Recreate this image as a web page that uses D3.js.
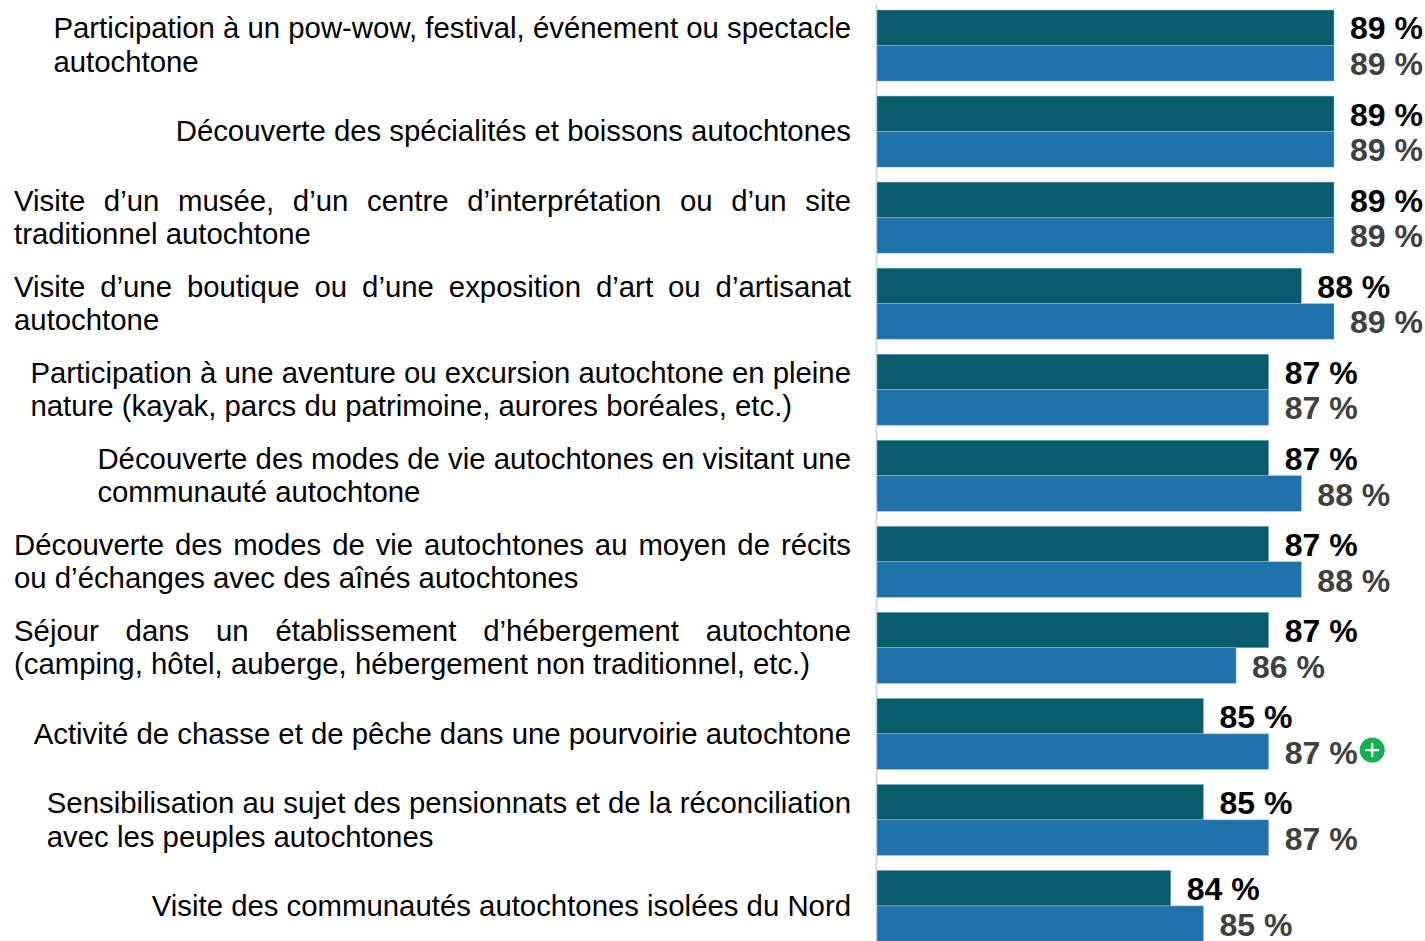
<!DOCTYPE html>
<html>
<head>
<meta charset="utf-8">
<style>
  html, body { margin: 0; padding: 0; background: #fff; overflow: hidden; }
  svg { display: block; font-family: "Liberation Sans", Arial, sans-serif; }
</style>
<script src="https://cdn.jsdelivr.net/npm/d3@7"></script>
</head>
<body>
<script>
var categories = [
    ["Participation à un pow-wow, festival, événement ou spectacle", "autochtone"],
    ["Découverte des spécialités et boissons autochtones"],
    ["Visite d’un musée, d’un centre d’interprétation ou d’un site", "traditionnel autochtone"],
    ["Visite d’une boutique ou d’une exposition d’art ou d’artisanat", "autochtone"],
    ["Participation à une aventure ou excursion autochtone en pleine", "nature (kayak, parcs du patrimoine, aurores boréales, etc.)"],
    ["Découverte des modes de vie autochtones en visitant une", "communauté autochtone"],
    ["Découverte des modes de vie autochtones au moyen de récits", "ou d’échanges avec des aînés autochtones"],
    ["Séjour dans un établissement d’hébergement autochtone", "(camping, hôtel, auberge, hébergement non traditionnel, etc.)"],
    ["Activité de chasse et de pêche dans une pourvoirie autochtone"],
    ["Sensibilisation au sujet des pensionnats et de la réconciliation", "avec les peuples autochtones"],
    ["Visite des communautés autochtones isolées du Nord"]
];
var series1 = [89, 89, 89, 88, 87, 87, 87, 87, 85, 85, 84];
var series2 = [89, 89, 89, 89, 87, 88, 88, 86, 87, 87, 85];
var seriesColors = ["#095c6b", "#2072ab"];
var labelColors = ["#000000", "#404040"];
var labelOffsets = [11.73, 12.06];
var justifiedRows = [2, 3, 6, 7];
var increasedRows = [8];

var canvasWidth = 1425;
var canvasHeight = 941;
var labelRight = 851;
var labelLeftLimit = 14;
var lineHeight = 33.7;
var groupStep = 86.04;

var svg = d3.select("body").append("svg")
    .attr("width", canvasWidth)
    .attr("height", canvasHeight);

// the value axis is cut off, bars start at 75 in the original
var x = d3.scaleLinear().domain([75, 89]).range([877, 1334]);

var y = d3.scaleBand()
    .domain(d3.range(categories.length))
    .range([2.5, 2.5 + groupStep * categories.length])
    .paddingInner(15 / 86)
    .paddingOuter(7.5 / 86);

var inner = d3.scaleBand()
    .domain([0, 1])
    .range([0, y.bandwidth()]);

// vertical axis line, no ticks or labels
var axis = svg.append("g")
    .attr("transform", "translate(" + (x.range()[0] - 1) + ",0)")
    .call(d3.axisLeft(d3.scaleLinear().range([3, canvasHeight])).tickSize(0).tickValues([]));
axis.select(".domain").attr("stroke", "#d9d9d9").attr("stroke-width", 2);

[series1, series2].forEach(function(values, s) {
    var g = svg.append("g").attr("class", "series-" + s);

    g.selectAll("rect")
        .data(values)
        .enter().append("rect")
        .attr("x", x.range()[0])
        .attr("y", function(d, i) { return y(i) + inner(s); })
        .attr("width", function(d) { return x(d) - x.range()[0]; })
        .attr("height", inner.bandwidth())
        .attr("fill", seriesColors[s])
        .attr("stroke", "#8fb8d0")
        .attr("stroke-width", 0.5);

    g.selectAll("text")
        .data(values)
        .enter().append("text")
        .attr("x", function(d) { return x(d) + 16; })
        .attr("y", function(d, i) { return y(i) + inner(s) + inner.bandwidth() / 2 + labelOffsets[s]; })
        .attr("font-size", 32)
        .attr("font-weight", "bold")
        .attr("fill", labelColors[s])
        .text(function(d) { return d + " %"; });
});

// category labels: block is right aligned, lines inside it are left aligned
var labels = svg.append("g").attr("class", "labels");
categories.forEach(function(lines, i) {
    var center = y(i) + y.bandwidth() / 2;
    var startY = center - (lines.length - 1) * lineHeight / 2 + 9.8;

    var texts = labels.selectAll("text.row-" + i)
        .data(lines)
        .enter().append("text")
        .attr("class", "row-" + i)
        .attr("y", function(d, j) { return startY + j * lineHeight; })
        .attr("font-size", 29.35)
        .attr("fill", "#000")
        .text(function(d) { return d; });

    var firstWidth = texts.node().getComputedTextLength();
    var left = labelRight - firstWidth;

    if (justifiedRows.indexOf(i) >= 0) {
        var gaps = lines[0].split(" ").length - 1;
        left = labelLeftLimit;
        d3.select(texts.nodes()[0])
            .attr("word-spacing", (labelRight - labelLeftLimit - firstWidth) / gaps);
    }
    texts.attr("x", left);
});

// green plus marker beside the significantly higher values
increasedRows.forEach(function(i) {
    var cx = x(series2[i]) + 103.5;
    var cy = y(i) + inner(1) + inner.bandwidth() / 2 - 1.5;
    var marker = svg.append("g").attr("transform", "translate(" + cx + "," + cy + ")");
    marker.append("circle").attr("r", 12.5).attr("fill", "#12b050");
    marker.append("path")
        .attr("d", "M-6,0H6M0,-6V6")
        .attr("stroke", "#fff")
        .attr("stroke-width", 2.4)
        .attr("stroke-linecap", "round");
});
</script>
</body>
</html>
